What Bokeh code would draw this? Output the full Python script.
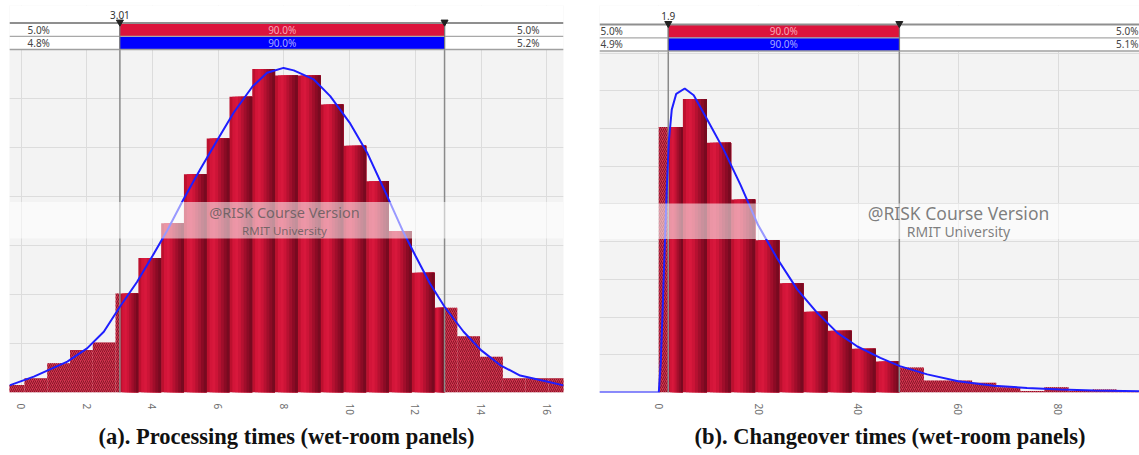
import numpy as np
from bokeh.plotting import figure
from bokeh.layouts import row
from bokeh.models import Range1d, FixedTicker, Title
from bokeh.core.properties import value
from bokeh.embed import file_html
from bokeh.resources import INLINE

# ---------------- data: (a) processing times ----------------
a_bin_start = -0.587
a_bin_width = 0.6932
a_density = [0.0031, 0.0058, 0.0119, 0.0173, 0.0204, 0.0404, 0.0549, 0.0691, 0.0891, 0.1037,
             0.1207, 0.1321, 0.1294, 0.1294, 0.1176, 0.1007, 0.0862, 0.0659, 0.0489, 0.0346,
             0.0230, 0.0146, 0.0058, 0.0058, 0.0058]
a_fit_x = [-0.35, 0.39, 1.41, 2.01, 2.52, 3.01, 3.53, 4.01, 4.45, 4.95, 5.46, 5.99, 6.47, 7.05,
           7.49, 7.99, 8.30, 8.91, 9.41, 10.0, 10.53, 11.14, 11.64, 12.0, 12.45, 12.89, 13.47,
           14.0, 14.58, 15.19, 16.0, 16.51]
a_fit_y = [0.0029, 0.0065, 0.0126, 0.0180, 0.0248, 0.0350, 0.0451, 0.0559, 0.0661, 0.0790,
           0.0912, 0.1034, 0.1142, 0.1250, 0.1305, 0.1325, 0.1315, 0.1278, 0.1210, 0.1102,
           0.0980, 0.0803, 0.0654, 0.0559, 0.0444, 0.0350, 0.0248, 0.0173, 0.0112, 0.0069,
           0.0045, 0.0029]
a_lo, a_hi = 3.01, 12.89
a_lo_label, a_hi_label = "3.01", "12.89"
a_red_labels = ["5.0%", "90.0%", "5.0%"]
a_blue_labels = ["4.8%", "90.0%", "5.2%"]
a_xticks = [0, 2, 4, 6, 8, 10, 12, 14, 16]
a_ygrid = [0.02, 0.04, 0.06, 0.08, 0.10, 0.12, 0.14]
a_caption = "(a). Processing times (wet-room panels)"

# ---------------- data: (b) changeover times ----------------
b_bin_start = 0.0
b_bin_width = 4.83
b_density = [0.0352, 0.0389, 0.0331, 0.0256, 0.0202, 0.0145, 0.0107, 0.0082, 0.0058, 0.0041,
             0.0033, 0.0016, 0.0016, 0.0013, 0.0007, 0.0002, 0.0007, 0.0002, 0.0004, 0.0002]
b_fit_x = [-11.9, 0.0, 0.4, 0.8, 1.2, 1.6, 2.0, 2.6, 3.5, 5.2, 7.0, 9.7, 13.0, 16.4, 19.9, 23.7,
           27.7, 31.7, 35.8, 39.8, 44.4, 48.3, 53.8, 60.0, 67.1, 73.8, 80.5, 87.2, 96.3]
b_fit_y = [0.0, 0.0, 0.0040, 0.0115, 0.0195, 0.0270, 0.0332, 0.0375, 0.0396, 0.0403, 0.0394,
           0.0362, 0.0322, 0.0275, 0.0222, 0.0178, 0.0137, 0.0106, 0.0079, 0.0061, 0.0046,
           0.0035, 0.0024, 0.0015, 0.0009, 0.0006, 0.0004, 0.00027, 0.00017]
b_lo, b_hi = 1.9, 48.2
b_lo_label, b_hi_label = "1.9", "48.2"
b_red_labels = ["5.0%", "90.0%", "5.0%"]
b_blue_labels = ["4.9%", "90.0%", "5.1%"]
b_xticks = [0, 20, 40, 60, 80]
b_ygrid = [0.005, 0.010, 0.015, 0.020, 0.025, 0.030, 0.035, 0.040, 0.045]
b_caption = "(b). Changeover times (wet-room panels)"

watermark_1 = "@RISK Course Version"
watermark_2 = "RMIT University"

# ---------------- styles ----------------
GRAD = ["#bc102e", "#d31539", "#d8183c", "#cc1437", "#b61131", "#a00e2b", "#8b0b25", "#780a20"]
FONT = "Noto Sans"
H = 455


def make_panel(bin_start, bin_width, dens, fit_x, fit_y, lo, hi, lo_label, hi_label,
               red_labels, blue_labels, xticks, ygrid, caption, g):
    gt, gb, y_top = g["gray_top"], g["gray_bottom"], g["y_top"]

    def Y(py):  # page pixel row -> data y
        return (gb - py) / (gb - gt) * y_top

    xs, xe = g["x_start"], g["x_end"]
    p = figure(width=g["width"], height=H, x_range=Range1d(xs, xe), y_range=Range1d(0, Y(5)),
               output_backend="svg", toolbar_location=None, y_axis_location=None,
               min_border_left=g["ml"], min_border_right=g["mr"], min_border_top=5,
               min_border_bottom=H - int(round(gb)))
    p.outline_line_color = None
    p.background_fill_color = "#f3f3f3"
    p.border_fill_color = "white"
    p.xgrid.ticker = FixedTicker(ticks=xticks)
    p.ygrid.ticker = FixedTicker(ticks=ygrid)
    for gr in (p.xgrid, p.ygrid):
        gr.grid_line_color = "#dcdcdc"
        gr.grid_line_width = 1
    ax = p.xaxis[0]
    ax.ticker = FixedTicker(ticks=xticks)
    ax.axis_line_color = None
    ax.major_tick_line_color = None
    ax.minor_tick_line_color = None
    ax.major_label_orientation = "vertical"
    ax.major_label_text_font = FONT
    ax.major_label_text_font_size = "10px"
    ax.major_label_text_color = "#6e6e6e"
    ax.major_label_standoff = 5

    # white area above the plot (band region)
    p.quad(left=[xs], right=[xe], bottom=[y_top], top=[Y(0)], fill_color="white", line_color=None)

    # histogram
    dens = np.asarray(dens, float)
    left = bin_start + bin_width * np.arange(len(dens))
    right = left + bin_width
    # solid part inside [lo, hi] with horizontal gradient (overlapping strips, no seams)
    sl = np.maximum(left, lo)
    sr = np.minimum(right, hi)
    m = sr > sl
    n = len(GRAD)
    for k, c in enumerate(GRAD):
        a = sl[m] + (sr[m] - sl[m]) * k / n
        p.quad(left=a, right=sr[m], bottom=0, top=dens[m], fill_color=c, line_color=None)
    # hatched parts outside
    hl_l, hl_r = left, np.minimum(right, lo)
    mh1 = hl_r > hl_l
    hr_l, hr_r = np.maximum(left, hi), right
    mh2 = hr_r > hr_l
    hx0 = np.concatenate([hl_l[mh1], hr_l[mh2]])
    hx1 = np.concatenate([hl_r[mh1], hr_r[mh2]])
    hy = np.concatenate([dens[mh1], dens[mh2]])
    p.quad(left=hx0, right=hx1, bottom=0, top=hy, fill_color="#d3344f", line_color=None,
           hatch_pattern="/", hatch_color="#6e0e1c", hatch_scale=4, hatch_weight=1, hatch_alpha=0.75)

    # vertical percentile lines
    p.segment(x0=[lo, hi], y0=[0, 0], x1=[lo, hi], y1=[Y(g["band"][0]), Y(g["band"][0])],
              line_color="#8a8a8a", line_width=1.5)

    # fitted curve
    p.line(fit_x, fit_y, line_color="#1e1eff", line_width=2)

    # watermark band + text
    wt, wb = g["wm_band"]
    p.quad(left=[xs], right=[xe], bottom=[Y(wb)], top=[Y(wt)], fill_color="white",
           fill_alpha=0.55, line_color=None)
    wx = xs + (g["wm_cx"] - g["fl"]) / (g["fr"] - g["fl"]) * (xe - xs)
    p.text(x=[wx], y=[Y(g["wm_y1"])], text=[watermark_1], text_align="center",
           text_baseline="middle", text_font=value(FONT), text_font_size=g["wm_fs1"],
           text_color="#555555", text_alpha=0.75)
    p.text(x=[wx], y=[Y(g["wm_y2"])], text=[watermark_2], text_align="center",
           text_baseline="middle", text_font=value(FONT), text_font_size=g["wm_fs2"],
           text_color="#555555", text_alpha=0.75)

    # top band: red and blue 90% bars
    b0, b1, b2 = g["band"]
    p.quad(left=[lo], right=[hi], bottom=[Y(b1)], top=[Y(b0)], fill_color="#dc143c", line_color=None)
    p.quad(left=[lo], right=[hi], bottom=[Y(b2)], top=[Y(b1)], fill_color="#0000ff", line_color=None)
    p.segment(x0=[xs, xs, xs], y0=[Y(b0), Y(b1), Y(b2)], x1=[xe, xe, xe], y1=[Y(b0), Y(b1), Y(b2)],
              line_color=["#8f8f8f", "#a8a8a8", "#a0a0a0"], line_width=[2, 1.2, 1.5])
    p.segment(x0=[lo, hi], y0=[Y(b0), Y(b0)], x1=[lo, hi], y1=[Y(b2), Y(b2)],
              line_color="#7a7a7a", line_width=1)
    p.scatter(x=[lo, hi], y=[Y(b0 - 1), Y(b0 - 1)], marker="inverted_triangle", size=7,
              fill_color="#222222", line_color="#222222")
    p.text(x=[lo, hi], y=[Y(g["lab_y"])], text=[lo_label, hi_label], text_align="center",
           text_baseline="middle", text_font=value(FONT), text_font_size="10px", text_color="#333333")

    yr = Y((b0 + b1) / 2)
    yb = Y((b1 + b2) / 2)
    for yy, labs, mid_col in ((yr, red_labels, "#f6a9b8"), (yb, blue_labels, "#a8a8ff")):
        p.text(x=[xs], y=[yy], text=[labs[0]], x_offset=g["pad_l"], text_align="left",
               text_baseline="middle", text_font=value(FONT), text_font_size="10px", text_color="#444444")
        p.text(x=[xe], y=[yy], text=[labs[2]], x_offset=-g["pad_r"], text_align="right",
               text_baseline="middle", text_font=value(FONT), text_font_size="10px", text_color="#444444")
        p.text(x=[(lo + hi) / 2], y=[yy], text=[labs[1]], text_align="center",
               text_baseline="middle", text_font=value(FONT), text_font_size="10px", text_color=mid_col)

    t = Title(text=caption, align=g["cap_align"], offset=g["cap_offset"], text_font="Liberation Serif",
              text_font_size="22.5px", text_font_style="bold", text_color="#111111", standoff=8)
    p.add_layout(t, "below")
    return p


ga = dict(width=570, ml=9, mr=7, fl=9, fr=563, x_start=-0.350, x_end=16.51,
          gray_top=49.3, gray_bottom=394.3, y_top=0.14, band=(22.7, 36.0, 49.3), lab_y=15,
          wm_band=(202.7, 239.3), wm_cx=284, wm_y1=213, wm_y2=231, wm_fs1="14.5px", wm_fs2="11.5px",
          pad_l=18, pad_r=24, cap_align="center", cap_offset=0)
gb_ = dict(width=569, ml=29, mr=0, fl=599, fr=1139, x_start=-11.88, x_end=96.33,
           gray_top=51.0, gray_bottom=391.5, y_top=0.0452, band=(24.0, 37.3, 50.5), lab_y=15,
           wm_band=(202.7, 238.3), wm_cx=958, wm_y1=212.5, wm_y2=231, wm_fs1="17.5px", wm_fs2="14px",
           pad_l=1, pad_r=1, cap_align="left", cap_offset=95)

pa = make_panel(a_bin_start, a_bin_width, a_density, a_fit_x, a_fit_y, a_lo, a_hi, a_lo_label,
                a_hi_label, a_red_labels, a_blue_labels, a_xticks, a_ygrid, a_caption, ga)
pb = make_panel(b_bin_start, b_bin_width, b_density, b_fit_x, b_fit_y, b_lo, b_hi, b_lo_label,
                b_hi_label, b_red_labels, b_blue_labels, b_xticks, b_ygrid, b_caption, gb_)

layout = row(pa, pb, spacing=0)
open("out.html", "w").write(file_html(layout, INLINE))
